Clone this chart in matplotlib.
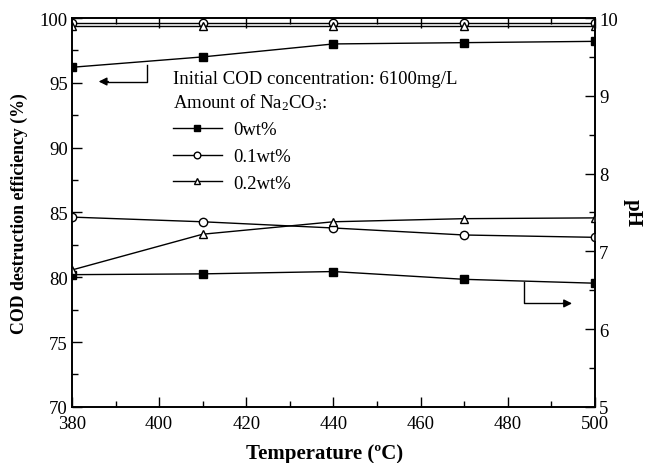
# COD destruction efficiency and pH against temperature for three Na2CO3 dosages

import matplotlib
matplotlib.use('Agg')
import matplotlib.pyplot as plt
from matplotlib.ticker import MultipleLocator

plt.rcParams['font.family'] = ['Liberation Serif', 'DejaVu Serif']
plt.rcParams['mathtext.fontset'] = 'custom'
plt.rcParams['mathtext.rm'] = 'Liberation Serif'
plt.rcParams['mathtext.it'] = 'Liberation Serif:italic'

# data
temperature = [380, 410, 440, 470, 500]
labels = ['0wt%', '0.1wt%', '0.2wt%']
cod_0 = [96.2, 97.0, 98.0, 98.1, 98.2]
cod_01 = [99.65, 99.65, 99.65, 99.65, 99.65]
cod_02 = [99.35, 99.35, 99.35, 99.35, 99.35]
ph_0 = [6.70, 6.71, 6.74, 6.64, 6.59]
ph_01 = [7.44, 7.38, 7.30, 7.21, 7.18]
ph_02 = [6.76, 7.22, 7.38, 7.42, 7.43]

fig = plt.figure(figsize=(6.48, 4.64), dpi=100)
ax = fig.add_axes([0.111, 0.121, 0.807, 0.838])
ax2 = ax.twinx()

styles = [dict(marker='s', mfc='black'), dict(marker='o', mfc='white'), dict(marker='^', mfc='white')]
handles = []
for vals, st, lab in zip([cod_0, cod_01, cod_02], styles, labels):
    h, = ax.plot(temperature, vals, color='black', lw=1, ms=6, mec='black', label=lab, **st)
    handles.append(h)
for vals, st in zip([ph_0, ph_01, ph_02], styles):
    ax2.plot(temperature, vals, color='black', lw=1, ms=6, mec='black', **st)

ax.set_xlim(380, 500)
ax.set_ylim(70, 100)
ax2.set_ylim(5, 10)
ax.xaxis.set_major_locator(MultipleLocator(20))
ax.xaxis.set_minor_locator(MultipleLocator(10))
ax.yaxis.set_major_locator(MultipleLocator(5))
ax.yaxis.set_minor_locator(MultipleLocator(2.5))
ax2.yaxis.set_major_locator(MultipleLocator(1))
ax2.yaxis.set_minor_locator(MultipleLocator(0.5))
ax.tick_params(which='both', direction='in', top=True, labelsize=13.5, width=1)
ax.tick_params(which='major', length=7)
ax.tick_params(which='minor', length=4)
ax.tick_params(axis='x', pad=6)
ax.tick_params(axis='y', pad=3)
ax2.tick_params(which='both', direction='in', labelsize=13.5, width=1, pad=3)
ax2.tick_params(which='major', length=7)
ax2.tick_params(which='minor', length=4)
for a in (ax, ax2):
    for s in a.spines.values():
        s.set_linewidth(1.2)

ax.set_xlabel('Temperature (\u00baC)', fontsize=15, fontweight='bold')
ax.xaxis.set_label_coords(0.484, -0.093)
ax.set_ylabel('COD destruction efficiency (%)', fontsize=12.8, fontweight='bold')
ax.yaxis.set_label_coords(-0.084, 0.5)
ax2.set_ylabel('pH', fontsize=15, fontweight='bold', rotation=-90, va='center')
ax2.yaxis.set_label_coords(1.072, 0.5)

# annotation text and legend
ax.text(0.193, 0.845, 'Initial COD concentration: 6100mg/L', transform=ax.transAxes,
        fontsize=13.5, va='center')
ax.text(0.193, 0.786, r'Amount of Na$_2$CO$_3$:', transform=ax.transAxes,
        fontsize=13.5, va='center')
ax.legend(handles=handles, loc='upper left', bbox_to_anchor=(0.193, 0.735), frameon=False,
          fontsize=13.5, handlelength=2.6, handletextpad=0.6, borderpad=0, borderaxespad=0,
          labelspacing=0.52, markerscale=0.8)

# arrows pointing to the relevant axis
ax.plot([397.2, 397.2, 387.5], [96.4, 95.1, 95.1], color='black', lw=1)
ax.annotate('', xy=(385.5, 95.1), xytext=(389, 95.1),
            arrowprops=dict(arrowstyle='-|>', color='black', lw=1, mutation_scale=12))
ax2.plot([483.7, 483.7, 493], [6.60, 6.33, 6.33], color='black', lw=1)
ax2.annotate('', xy=(495.4, 6.33), xytext=(492, 6.33),
             arrowprops=dict(arrowstyle='-|>', color='black', lw=1, mutation_scale=12))

fig.savefig('out.png', dpi=100)
